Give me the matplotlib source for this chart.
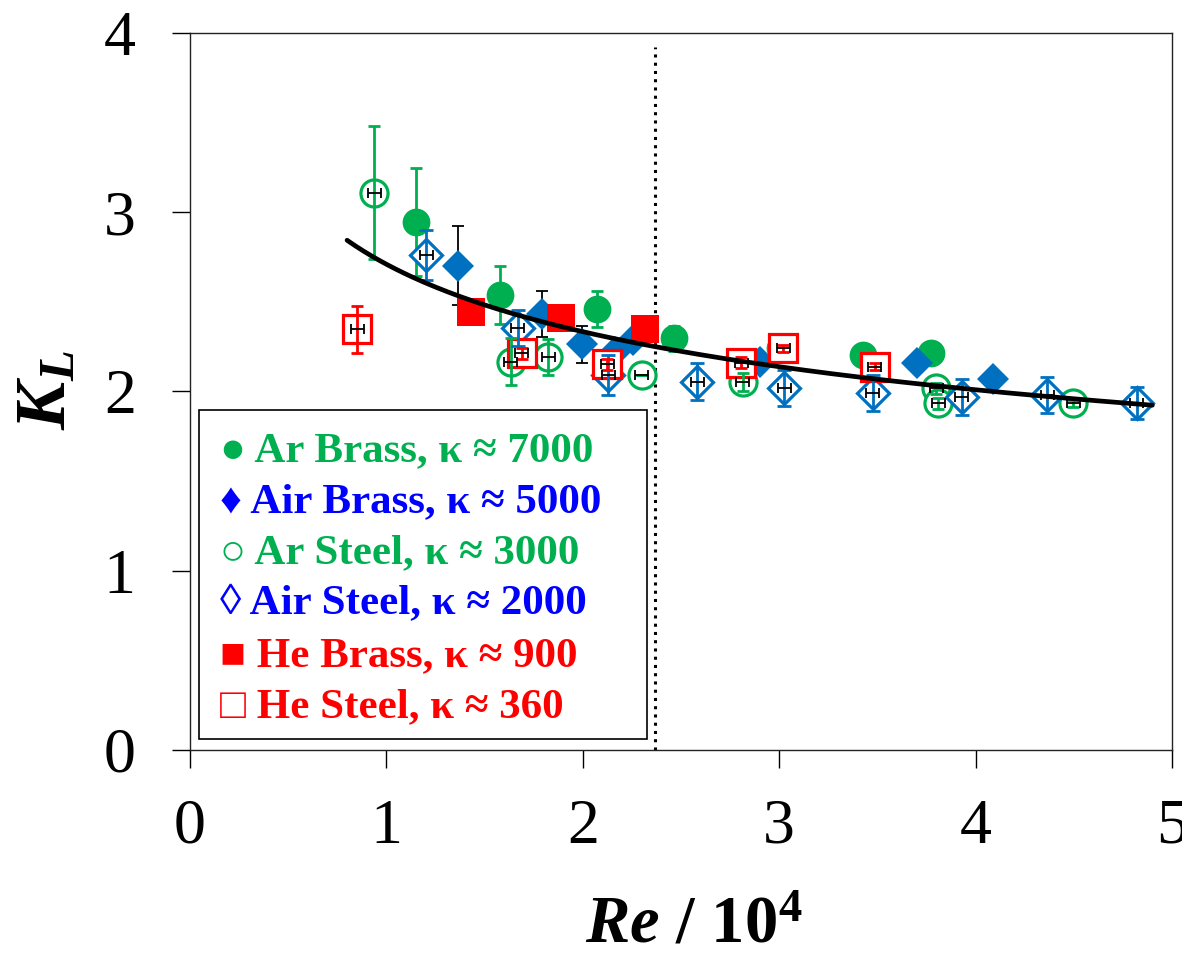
import matplotlib
matplotlib.use("Agg")
import matplotlib.pyplot as plt
from matplotlib.patches import Rectangle

plt.rcParams['font.family'] = ['Liberation Serif', 'DejaVu Serif', 'DejaVu Sans']
plt.rcParams['mathtext.fontset'] = 'custom'
plt.rcParams['mathtext.rm'] = 'Liberation Serif'
plt.rcParams['mathtext.it'] = 'Liberation Serif:italic'
plt.rcParams['mathtext.bf'] = 'Liberation Serif:bold'
plt.rcParams['mathtext.bfit'] = 'Liberation Serif:italic:bold'

# ---------------- data (Re / 1e4 , K_L) ----------------
ar_brass_x = [1.151, 1.578, 2.071, 2.465, 3.006, 3.425, 3.773]
ar_brass_y = [2.947, 2.538, 2.458, 2.297, 2.241, 2.204, 2.213]
ar_brass_err = [0.30, 0.16, 0.10, 0.07, 0.04, 0.04, 0.04]

air_brass_x = [1.366, 1.790, 1.998, 2.164, 2.257, 2.902, 3.704, 4.087]
air_brass_y = [2.702, 2.432, 2.263, 2.222, 2.287, 2.166, 2.157, 2.068]
air_brass_err = [0.22, 0.13, 0.105, 0.07, 0.05, 0.04, 0.04, 0.04]

ar_steel_x = [0.938, 1.634, 1.825, 2.300, 2.814, 3.800, 3.809, 4.497]
ar_steel_y = [3.109, 2.166, 2.194, 2.092, 2.055, 2.018, 1.934, 1.934]
ar_steel_err = [0.37, 0.13, 0.10, 0.0, 0.05, 0.03, 0.03, 0.02]

air_steel_x = [1.202, 1.668, 2.130, 2.583, 3.027, 3.477, 3.930, 4.366, 4.820]
air_steel_y = [2.761, 2.352, 2.092, 2.055, 2.018, 1.990, 1.971, 1.980, 1.934]
air_steel_err = [0.14, 0.10, 0.11, 0.104, 0.10, 0.10, 0.10, 0.10, 0.09]

he_brass_x = [1.429, 1.887, 2.317]
he_brass_y = [2.445, 2.408, 2.347]
he_brass_err = [0.03, 0.03, 0.03]

he_steel_x = [0.852, 1.689, 2.125, 2.806, 3.020, 3.486]
he_steel_y = [2.347, 2.213, 2.152, 2.161, 2.241, 2.139]
he_steel_err = [0.13, 0.03, 0.03, 0.03, 0.02, 0.02]

re_err = 0.033                 # horizontal error (Re / 1e4)
fit_a, fit_b = 2.71, -0.2157   # power-law fit K_L = a * Re^b
fit_lo, fit_hi = 0.80, 4.90
transition_re = 2.37

legend_lines = [
    "● Ar Brass, κ ≈ 7000",
    "♦ Air Brass, κ ≈ 5000",
    "○ Ar Steel, κ ≈ 3000",
    "◊ Air Steel, κ ≈ 2000",
    "■ He Brass, κ ≈ 900",
    "□ He Steel, κ ≈ 360",
]

GREEN = '#00B050'
BLUE = '#0070C0'
RED = '#FF0000'
LEG_BLUE = '#0000FF'

fig = plt.figure(figsize=(11.82, 9.56), dpi=100)
ax = fig.add_axes([0.1607, 0.2155, 0.8308, 0.7500])

series = [
    # x, y, yerr, marker, ms, filled, color, errcolor, capsize, elw
    (ar_brass_x, ar_brass_y, ar_brass_err, 'o', 20.0, True, GREEN, GREEN, 4.5, 2.0),
    (air_brass_x, air_brass_y, air_brass_err, 'D', 16.5, True, BLUE, 'black', 4.5, 1.3),
    (ar_steel_x, ar_steel_y, ar_steel_err, 'o', 19.5, False, GREEN, GREEN, 4.5, 2.0),
    (air_steel_x, air_steel_y, air_steel_err, 'D', 16.0, False, BLUE, BLUE, 5.0, 2.0),
    (he_brass_x, he_brass_y, he_brass_err, 's', 20.0, True, RED, RED, 4.0, 1.5),
    (he_steel_x, he_steel_y, he_steel_err, 's', 19.5, False, RED, RED, 4.0, 2.0),
]

for x, y, e, m, ms, filled, col, ecol, cs, elw in series:
    ax.errorbar(x, y, yerr=e, fmt='none', ecolor=ecol, elinewidth=elw,
                capsize=cs, capthick=elw, zorder=2 if filled else 3.3)
    ax.errorbar(x, y, xerr=re_err, fmt='none', ecolor='black', elinewidth=1.3,
                capsize=3.5, capthick=1.3, zorder=3.4 if not filled else 2.5)
    ax.plot(x, y, ls='none', marker=m, ms=ms,
            mfc=col if filled else 'white', mec=col,
            mew=0 if filled else 2.3, zorder=3)

# fit curve
n = 200
fx = [fit_lo + (fit_hi - fit_lo) * i / (n - 1) for i in range(n)]
fy = [fit_a * v ** fit_b for v in fx]
ax.plot(fx, fy, color='black', lw=3.4, zorder=3.5, solid_capstyle='round')

# transition line
ax.plot([transition_re, transition_re], [0.0, 3.92], color='black', lw=2.2,
        ls=(0, (1, 1.7)), zorder=1.5)

ax.set_xlim(0, 5)
ax.set_ylim(0, 4)
ax.set_xticks([0, 1, 2, 3, 4, 5])
ax.set_yticks([0, 1, 2, 3, 4])
ax.tick_params(axis='both', direction='out', length=13, width=1.0,
               labelsize=46, color='black')
ax.tick_params(axis='x', pad=22)
ax.tick_params(axis='y', pad=26)
for s in ax.spines.values():
    s.set_linewidth(1.0)
    s.set_color('#222222')

ax.set_xlabel(r'$\mathbfit{Re}$ / 10$^{\mathbf{4}}$', fontsize=48,
              fontweight='bold', va='baseline')
ax.xaxis.set_label_coords(0.513, -0.268)
ax.set_ylabel(r'$\mathbfit{K}_{\mathbfit{L}}$', fontsize=52)
ax.yaxis.set_label_coords(-0.112, 0.502)

# legend box
ax.add_patch(Rectangle((0.0092, 0.0153), 0.4562, 0.4587, transform=ax.transAxes,
                       fill=True, facecolor='white', edgecolor='black', lw=1.2,
                       zorder=5))
leg_colors = [GREEN, LEG_BLUE, GREEN, LEG_BLUE, RED, RED]
leg_y = [0.403, 0.332, 0.261, 0.190, 0.117, 0.046]
for txt, c, yy in zip(legend_lines, leg_colors, leg_y):
    ax.text(0.031, yy, txt, transform=ax.transAxes, color=c, fontsize=31,
            fontweight='bold', va='baseline', ha='left', zorder=6)

fig.savefig('out.png', dpi=100)
